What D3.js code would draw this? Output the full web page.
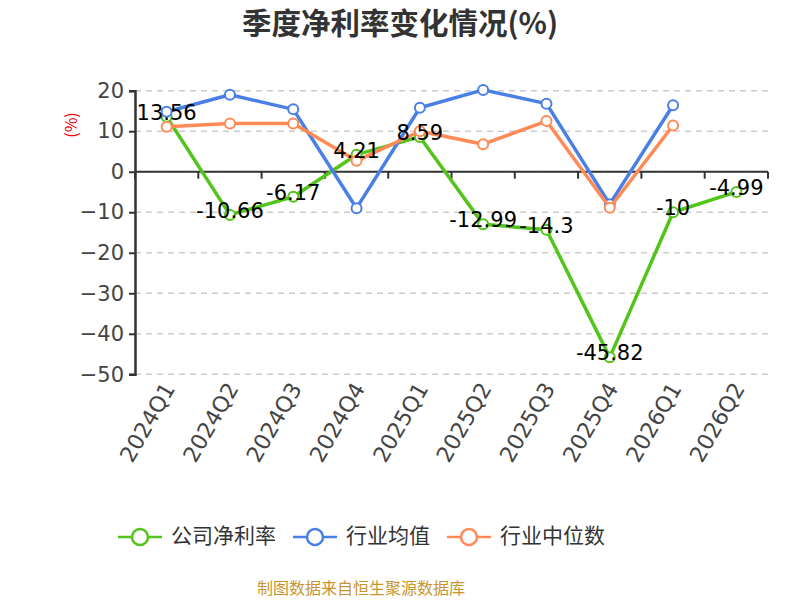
<!DOCTYPE html>
<html lang="zh"><head><meta charset="utf-8">
<script src="https://cdn.jsdelivr.net/npm/d3@7/dist/d3.min.js"></script>
<style>
body { margin: 0; background: #fff; }
text { font-family: "Noto Sans CJK SC", "Noto Sans", sans-serif; }
</style>
</head>
<body>
<script>
// quarterly net margin vs industry
var quarters = ["2024Q1","2024Q2","2024Q3","2024Q4","2025Q1","2025Q2","2025Q3","2025Q4","2026Q1","2026Q2"];
var company = [13.56, -10.66, -6.17, 4.21, 8.59, -12.99, -14.3, -45.82, -10, -4.99];
var industryAvg = [14.8, 19.0, 15.4, -9.0, 15.8, 20.2, 16.8, -8.0, 16.4, null];
var industryMedian = [11.1, 11.9, 11.9, 2.7, 10.0, 6.8, 12.5, -8.9, 11.4, null];
var yTicks = [20, 10, 0, -10, -20, -30, -40, -50];
var seriesNames = ["公司净利率", "行业均值", "行业中位数"];
var colors = ["#52c41a", "#4a7fe6", "#ff8a55"];

var width = 800, height = 600;
var plotLeft = 135, plotRight = 768, plotTop = 90.7, plotBottom = 374.3;
var numFont = "'DejaVu Sans', sans-serif";

var svg = d3.select("body").append("svg")
    .attr("width", width).attr("height", height);

svg.append("text")
    .attr("x", 400).attr("y", 34)
    .attr("text-anchor", "middle")
    .attr("font-size", 29.5).attr("font-weight", "bold").attr("fill", "#333")
    .text("季度净利率变化情况(%)");

var x = d3.scaleBand().domain(quarters).range([plotLeft, plotRight]);
var y = d3.scaleLinear().domain([-50, 20]).range([plotBottom, plotTop]);

// grid
svg.append("g").selectAll("line").data(yTicks).enter().append("line")
    .attr("x1", plotLeft).attr("x2", plotRight)
    .attr("y1", d => y(d)).attr("y2", d => y(d))
    .attr("stroke", "#ccc").attr("stroke-width", 1.5)
    .attr("stroke-dasharray", "6,5");

// y axis
var yAxis = svg.append("g").attr("transform", "translate(" + plotLeft + ",0)")
    .call(d3.axisLeft(y).tickValues(yTicks).tickSize(6).tickPadding(5).tickFormat(d3.format("d")));
yAxis.select(".domain").attr("stroke", "#333").attr("stroke-width", 2.5);
yAxis.selectAll(".tick line").attr("stroke", "#333").attr("stroke-width", 2);
yAxis.selectAll("text").attr("font-size", 21).attr("fill", "#444")
    .style("font-family", numFont);

svg.append("text")
    .attr("transform", "translate(73,125) rotate(-90)")
    .attr("text-anchor", "middle").attr("dominant-baseline", "middle")
    .attr("font-size", 16).attr("fill", "#e00")
    .text("(%)");

// x axis line at zero
var xAxis = svg.append("g").attr("transform", "translate(0," + y(0) + ")");
xAxis.append("line").attr("x1", plotLeft).attr("x2", plotRight)
    .attr("stroke", "#333").attr("stroke-width", 2);
var bounds = quarters.map(d => x(d)).concat([plotRight]);
xAxis.selectAll(".tk").data(bounds).enter().append("line")
    .attr("x1", d => d).attr("x2", d => d).attr("y1", 0).attr("y2", 7)
    .attr("stroke", "#333").attr("stroke-width", 2);

svg.append("g").selectAll("text").data(quarters).enter().append("text")
    .attr("transform", d => "translate(" + (x(d) + x.bandwidth() / 2 + 4) + "," + (plotBottom + 11) + ") rotate(-60)")
    .attr("text-anchor", "end").attr("dominant-baseline", "middle")
    .attr("font-size", 22).attr("fill", "#444")
    .style("font-family", numFont)
    .text(d => d);

// series
var allSeries = [company, industryAvg, industryMedian];
var cx = (d, i) => x(quarters[i]) + x.bandwidth() / 2;
var line = d3.line().defined(d => d !== null).x(cx).y(d => y(d));

allSeries.forEach(function(s, k) {
    svg.append("path").datum(s)
        .attr("d", line).attr("fill", "none")
        .attr("stroke", colors[k]).attr("stroke-width", 3.5)
        .attr("stroke-linejoin", "round");
    svg.append("g").selectAll("circle")
        .data(s.map((v, i) => [v, i]).filter(p => p[0] !== null))
        .enter().append("circle")
        .attr("cx", p => cx(p[0], p[1])).attr("cy", p => y(p[0]))
        .attr("r", 5).attr("fill", "#fff")
        .attr("stroke", colors[k]).attr("stroke-width", 2);
});

// value labels for the company series
svg.append("g").selectAll("text").data(company).enter().append("text")
    .attr("x", (d, i) => cx(d, i)).attr("y", d => y(d) - 3)
    .attr("text-anchor", "middle").attr("dominant-baseline", "middle")
    .attr("font-size", 21).attr("fill", "#000")
    .style("font-family", numFont)
    .text(d => d);

// legend
var lx = 118, ly = 537;
seriesNames.forEach(function(name, k) {
    var g = svg.append("g");
    g.append("line").attr("x1", lx).attr("x2", lx + 44).attr("y1", ly).attr("y2", ly)
        .attr("stroke", colors[k]).attr("stroke-width", 2.5);
    g.append("circle").attr("cx", lx + 22).attr("cy", ly).attr("r", 8)
        .attr("fill", "#fff").attr("stroke", colors[k]).attr("stroke-width", 2.5);
    var t = g.append("text").attr("x", lx + 53).attr("y", ly)
        .attr("dominant-baseline", "middle").attr("font-size", 21).attr("fill", "#333")
        .text(name);
    lx += 53 + t.node().getComputedTextLength() + 17;
});

svg.append("text")
    .attr("x", 361).attr("y", 590)
    .attr("text-anchor", "middle").attr("dominant-baseline", "middle")
    .attr("font-size", 16).attr("fill", "#c8952c")
    .text("制图数据来自恒生聚源数据库");
</script>
</body></html>
